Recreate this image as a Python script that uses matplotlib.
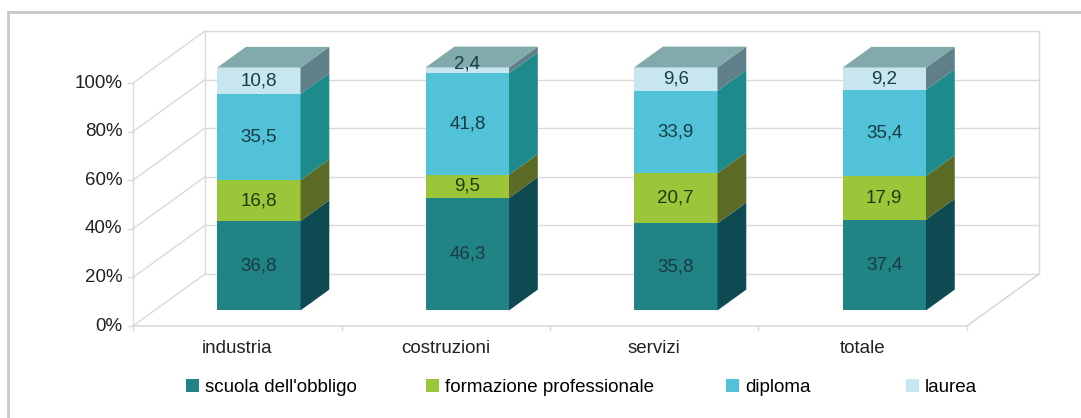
import numpy as np
import matplotlib
matplotlib.use("Agg")
import matplotlib.pyplot as plt
from matplotlib.patches import Polygon, Patch
from matplotlib.lines import Line2D

plt.rcParams['font.family'] = ['Liberation Sans', 'DejaVu Sans']

# data
categories = ['industria', 'costruzioni', 'servizi', 'totale']
series_names = ["scuola dell'obbligo", 'formazione professionale', 'diploma', 'laurea']
scuola = [36.8, 46.3, 35.8, 37.4]
formazione = [16.8, 9.5, 20.7, 17.9]
diploma = [35.5, 41.8, 33.9, 35.4]
laurea = [10.8, 2.4, 9.6, 9.2]
yticks = [0, 20, 40, 60, 80, 100]

series = [scuola, formazione, diploma, laurea]
front_cols = ['#218383', '#9bc63a', '#52c2d8', '#c8e6ef']
side_cols = ['#0e4a52', '#5b6b25', '#1d8a8c', '#5f8088']
top_col = '#82a9ac'
label_cols = ['#173c44', '#22380c', '#173c44', '#173c44']
grid_col = '#dadada'
fs = 13.5

# oblique "3d" depth offset in data units
DX = 0.345
DY = 21.4
z0, z1 = 0.3, 0.7
bw = 0.4

fig = plt.figure(figsize=(10.81, 4.18), dpi=100)
ax = fig.add_axes([0, 0, 1, 1])
ax.set_xlim(-1.138, 4.047)
ax.set_ylim(-37.86, 134.16)
ax.axis('off')

# outer frame (top + left)
fig.add_artist(Line2D([8 / 1081, 1], [1 - 12 / 418] * 2, color='#c8c8c8', lw=2))
fig.add_artist(Line2D([8 / 1081] * 2, [0, 1 - 12 / 418], color='#c8c8c8', lw=2))

n = len(categories)
x0, x1 = -0.5, n - 0.5

# walls and grid
for v in yticks:
    ax.plot([x0, x0 + DX], [v, v + DY], color=grid_col, lw=1, zorder=1)
    ax.plot([x0 + DX, x1 + DX], [v + DY, v + DY], color=grid_col, lw=1, zorder=1)
    ax.plot([x0 - 0.025, x0], [v, v], color=grid_col, lw=1, zorder=1)
    ax.text(x0 - 0.05, v, f'{v}%', ha='right', va='center', fontsize=fs, color='#222222')
ax.plot([x0, x0], [0, 100], color=grid_col, lw=1, zorder=1)
ax.plot([x0 + DX, x0 + DX], [DY, 100 + DY], color=grid_col, lw=1, zorder=1)
ax.plot([x1 + DX, x1 + DX], [DY, 100 + DY], color=grid_col, lw=1, zorder=1)
ax.plot([x0, x1], [0, 0], color=grid_col, lw=1.2, zorder=1)
ax.plot([x1, x1 + DX], [0, DY], color=grid_col, lw=1.2, zorder=1)
for k in range(n + 1):
    ax.plot([x0 + k, x0 + k], [0, -1.5], color=grid_col, lw=1, zorder=1)

# bars
xs = np.arange(n)
xf = xs + z0 * DX
bottom = np.zeros(n)
dz = z1 - z0
for s, vals in enumerate(series):
    vals = np.array(vals)
    ax.bar(xf, vals, width=bw, bottom=bottom + z0 * DY, color=front_cols[s],
           edgecolor='none', zorder=3)
    for i in range(n):
        xr = xf[i] + bw / 2
        b, t = bottom[i] + z0 * DY, bottom[i] + vals[i] + z0 * DY
        ax.add_patch(Polygon([(xr, b), (xr + dz * DX, b + dz * DY),
                              (xr + dz * DX, t + dz * DY), (xr, t)],
                             closed=True, facecolor=side_cols[s], edgecolor='none', zorder=3))
        lab_y = b + vals[i] / 2 if vals[i] > 5 else t + 1.5
        ax.text(xf[i], lab_y, f'{vals[i]:.1f}'.replace('.', ','), ha='center', va='center',
                fontsize=fs, color=label_cols[s], zorder=5)
    bottom = bottom + vals

# top faces
for i in range(n):
    t = bottom[i] + z0 * DY
    xl, xr = xf[i] - bw / 2, xf[i] + bw / 2
    ax.add_patch(Polygon([(xl, t), (xr, t), (xr + dz * DX, t + dz * DY),
                          (xl + dz * DX, t + dz * DY)],
                         closed=True, facecolor=top_col, edgecolor='none', zorder=4))

# category labels
for i, c in enumerate(categories):
    ax.text(xs[i], -9.3, c, ha='center', va='center', fontsize=fs, color='#222222')

# legend, one entry per block so spacing follows the original
leg_left = [186, 426, 726, 906]
for s in range(4):
    lg = fig.legend([Patch(facecolor=front_cols[s], edgecolor='none')], [series_names[s]],
                    loc='center left', bbox_to_anchor=(leg_left[s] / 1081, 0.072),
                    frameon=False, fontsize=fs, handlelength=0.7, handleheight=0.7,
                    handletextpad=0.3, borderpad=0, borderaxespad=0)

fig.savefig('out.png', dpi=100, facecolor='white')
